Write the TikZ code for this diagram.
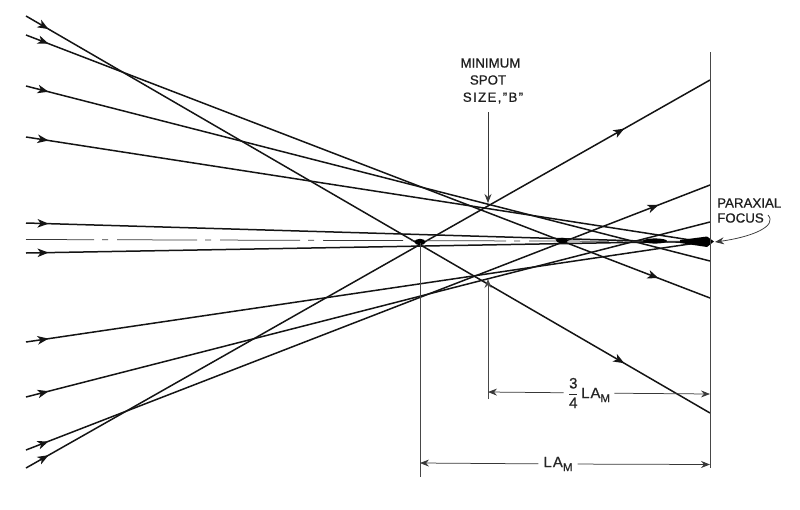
\documentclass[tikz,border=0pt]{standalone}
\usepackage{fontspec}
\setmainfont{Liberation Sans}[FakeBold=0.7]
\usetikzlibrary{arrows.meta,decorations.markings}
\tikzset{
  ray/.style={line width=1.5pt,black!92},
  tipR/.tip={Stealth[length=11pt,width=8.5pt,inset=3pt]},
  raymark/.style={ray,postaction={decorate},decoration={markings,mark=at position #1 with {\arrow{tipR}}}},
  raymarktwo/.style 2 args={ray,postaction={decorate},decoration={markings,
     mark=at position #1 with {\arrow{tipR}},mark=at position #2 with {\arrow{tipR}}}},
  dimline/.style={line width=0.75pt,black!78},
  frame/.style={line width=1pt,black!72},
  lbl/.style={font=\fontsize{13.3}{15}\selectfont,inner sep=0pt,text=black!88},
  dimlbl/.style={font=\fontsize{15}{17}\selectfont,inner sep=0pt,text=black!85,fill=white},
  dimhead/.style={-{Stealth[length=9pt,width=7pt,inset=3pt]}}
}
\newcommand{\lamtext}{L\kern1pt A{\fontsize{11.5}{12}\selectfont\raisebox{-4pt}{M}}}
\begin{document}
\begin{tikzpicture}[x=1pt,y=-1pt]
\useasboundingbox (0,0) rectangle (800,509);
% ray starts
\coordinate (s1) at (26,16);
\coordinate (s2) at (26,35);
\coordinate (s3) at (26,86);
\coordinate (s4) at (26,137);
\coordinate (s5) at (26,223);
\coordinate (s6) at (26,253);
\coordinate (s7) at (26,342);
\coordinate (s8) at (26,397);
\coordinate (s9) at (26,450);
\coordinate (s10) at (26,468);
% ray ends
\coordinate (e1) at (710,413);
\coordinate (e2) at (710,298);
\coordinate (e3) at (710,261);
\coordinate (e4) at (710,243);
\coordinate (e5) at (710,243);
\coordinate (e6) at (710,241);
\coordinate (e7) at (710,241);
\coordinate (e8) at (710,222);
\coordinate (e9) at (710,185);
\coordinate (e10) at (710,80);
% rays
\draw[raymarktwo={0.033}{0.875}] (s1) -- (e1);
\draw[raymarktwo={0.033}{0.925}] (s2) -- (e2);
\draw[raymark=0.033] (s3) -- (e3);
\draw[raymark=0.033] (s4) -- (e4);
\draw[raymark=0.033] (s5) -- (e5);
\draw[raymark=0.033] (s6) -- (e6);
\draw[raymark=0.033] (s7) -- (e7);
\draw[raymark=0.033] (s8) -- (e8);
\draw[raymarktwo={0.033}{0.925}] (s9) -- (e9);
\draw[raymarktwo={0.033}{0.875}] (s10) -- (e10);
% optical axis
\coordinate (ax0) at (26,239.5);
\coordinate (ax1) at (710,241.5);
\draw[dimline,dash pattern=on 80pt off 8pt on 6pt off 9pt,dash phase=12pt] (ax0) -- (ax1);
% caustic dots
\fill[black] (420,242) ellipse (5.5pt and 3.2pt);
\fill[black] (562,240.5) ellipse (6pt and 2.6pt);
\fill[black] (655,241) ellipse (12pt and 2.6pt);
\fill[black] (680,240) -- (707,236.5) -- (714,241.5) -- (707,247) -- (680,243) -- cycle;
% frame lines
\coordinate (pt) at (710,52);
\coordinate (pb) at (710,468);
\draw[frame] (pt) -- (pb);
\coordinate (lt) at (420,243);
\coordinate (lb) at (420,477);
\draw[frame] (lt) -- (lb);
% minimum spot arrows
\coordinate (ma) at (488,112);
\coordinate (mb) at (488,203);
\draw[dimline,dimhead] (ma) -- (mb);
\coordinate (mc) at (488,399);
\coordinate (md) at (488,279);
\draw[frame,dimhead] (mc) -- (md);
% dimensions
\coordinate (d1a) at (488,392);
\coordinate (d1b) at (710,394);
\coordinate (d2a) at (420,463);
\coordinate (d2b) at (710,464.5);
\node[dimlbl,inner xsep=4pt] (frac) at (589,393) {$\displaystyle\frac{\hbox{3}}{\hbox{4}}$\,\lamtext};
\node[dimlbl,inner xsep=5pt] (lam) at (558,464) {\lamtext};
\draw[dimline,dimhead] (frac) -- (d1a);
\draw[dimline,dimhead] (frac) -- (d1b);
\draw[dimline,dimhead] (lam) -- (d2a);
\draw[dimline,dimhead] (lam) -- (d2b);
% labels
\node[lbl] (mini) at (490.5,63) {MINIMUM};
\node[lbl] (spot) at (488,80) {SPOT};
\node[lbl] (size) at (493,98) {\addfontfeature{LetterSpace=10}SIZE,"B"};
\node[lbl,anchor=west] (para) at (717,203) {PARAXIAL};
\node[lbl,anchor=west] (foc) at (717,218) {FOCUS};
\coordinate (pf) at (715,242);
\draw[dimline,dimhead] ([xshift=4pt,yshift=3pt]foc.east) .. controls (778,226) and (752,237) .. (pf);
\end{tikzpicture}
\end{document}
